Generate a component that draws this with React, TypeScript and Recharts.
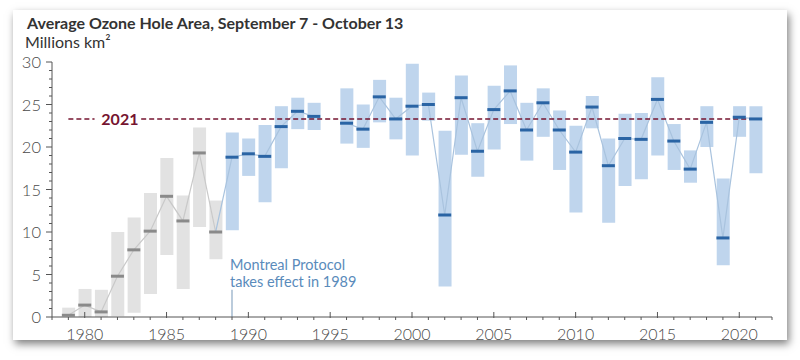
import React from 'react';
import {
  ComposedChart,
  Bar,
  Cell,
  Line,
  Scatter,
  XAxis,
  YAxis,
  ReferenceLine,
} from 'recharts';

const years = [
  1979, 1980, 1981, 1982, 1983, 1984, 1985, 1986, 1987, 1988,
  1989, 1990, 1991, 1992, 1993, 1994, 1995, 1996, 1997, 1998,
  1999, 2000, 2001, 2002, 2003, 2004, 2005, 2006, 2007, 2008,
  2009, 2010, 2011, 2012, 2013, 2014, 2015, 2016, 2017, 2018,
  2019, 2020, 2021,
];

const means = [
  0.2, 1.4, 0.6, 4.8, 7.9, 10.1, 14.2, 11.3, 19.3, 10.0,
  18.8, 19.2, 18.9, 22.4, 24.2, 23.6, null, 22.8, 22.1, 25.9,
  23.3, 24.8, 25.0, 12.0, 25.8, 19.5, 24.4, 26.6, 22.0, 25.2,
  22.0, 19.4, 24.7, 17.8, 21.0, 20.9, 25.6, 20.7, 17.4, 22.9,
  9.3, 23.5, 23.3,
];

const lows = [
  0, 0, 0, 0.1, 0.5, 2.7, 7.3, 3.3, 10.6, 6.8,
  10.2, 16.6, 13.5, 17.5, 22.1, 22.0, null, 20.4, 19.9, 22.9,
  20.9, 19.0, 23.1, 3.6, 19.1, 16.5, 19.7, 22.7, 18.4, 21.2,
  17.3, 12.3, 22.2, 11.1, 15.4, 16.2, 19.0, 17.3, 15.8, 20.0,
  6.1, 21.2, 16.9,
];

const highs = [
  1.1, 3.3, 3.2, 10.0, 11.7, 14.6, 18.7, 14.3, 22.3, 13.7,
  21.7, 21.0, 22.6, 24.8, 25.8, 25.2, null, 26.9, 25.0, 27.9,
  25.8, 29.8, 26.4, 21.9, 28.4, 22.8, 27.2, 29.6, 25.2, 26.9,
  24.3, 22.5, 26.0, 21.0, 23.9, 24.0, 28.2, 22.7, 19.6, 24.8,
  16.3, 24.8, 24.8,
];

const xTicks = [
  1978, 1979, 1980, 1981, 1982, 1983, 1984, 1985, 1986, 1987, 1988, 1989,
  1990, 1991, 1992, 1993, 1994, 1995, 1996, 1997, 1998, 1999, 2000, 2001,
  2002, 2003, 2004, 2005, 2006, 2007, 2008, 2009, 2010, 2011, 2012, 2013,
  2014, 2015, 2016, 2017, 2018, 2019, 2020, 2021, 2022,
];
const yTicks = [
  0, 1, 2, 3, 4, 5, 6, 7, 8, 9, 10, 11, 12, 13, 14, 15,
  16, 17, 18, 19, 20, 21, 22, 23, 24, 25, 26, 27, 28, 29, 30,
];

const protocolYear = 1989;
const level2021 = means[means.length - 1] as number;

const GRAY_BAR = '#e2e2e2';
const BLUE_BAR = '#bfd5ed';
const GRAY_MEAN = '#8a8a8a';
const BLUE_MEAN = '#2a64a4';
const DARK_RED = '#761430';
const FONT = 'Lato, "Open Sans", sans-serif';

const data = years.map((year, i) => ({
  year,
  range: lows[i] == null ? null : [lows[i], highs[i]],
  mean: means[i],
  meanGray: year <= 1988 ? means[i] : null,
  meanBlue: year >= 1988 ? means[i] : null,
}));

const XTick = (props: any) => {
  const { x, y, payload } = props;
  const major = payload.value % 5 === 0;
  return (
    <g>
      <line x1={x} x2={x} y1={major ? y - 5 : y} y2={y + (major ? 1 : 3)} stroke="#555" strokeWidth={1} />
      {major && (
        <text x={x} y={y + 16} textAnchor="middle" dominantBaseline="central" fill="#4a4a4a" fontSize={16} fontWeight={300} fontFamily={FONT}>
          {payload.value}
        </text>
      )}
    </g>
  );
};

const YTick = (props: any) => {
  const { x, y, payload } = props;
  const major = payload.value % 5 === 0;
  return (
    <g>
      <line x1={x - (major ? 6 : 3)} x2={x} y1={y} y2={y} stroke="#555" strokeWidth={1} />
      {major && (
        <text x={x - 11} y={y} textAnchor="end" dominantBaseline="central" fill="#4a4a4a" fontSize={16.5} fontWeight={300} fontFamily={FONT}>
          {payload.value}
        </text>
      )}
    </g>
  );
};

const MeanTick = (props: any) => {
  const { cx, cy, payload } = props;
  if (payload == null || payload.mean == null || !isFinite(cy)) return null;
  const color = payload.year < protocolYear ? GRAY_MEAN : BLUE_MEAN;
  return <rect x={cx - 6.5} y={cy - 1.5} width={13} height={3} fill={color} />;
};

export default function App() {
  return (
    <div style={{ position: 'absolute', left: 0, top: 0, width: 800, height: 360, background: '#fff', overflow: 'hidden', fontFamily: FONT }}>
      <div
        style={{
          position: 'absolute',
          left: 13,
          top: 10,
          width: 774,
          height: 330,
          background: '#fff',
          boxShadow: '2px 4px 8px rgba(0,0,0,0.5)',
        }}
      />
      <div style={{ position: 'absolute', left: 27, top: 15, fontSize: 16, lineHeight: '16px', fontWeight: 700, color: '#333', whiteSpace: 'nowrap' }}>
        Average Ozone Hole Area, September 7 - October 13
      </div>
      <div style={{ position: 'absolute', left: 25, top: 34, fontSize: 16, lineHeight: '16px', color: '#333', whiteSpace: 'nowrap' }}>
        Millions km²
      </div>
      <div style={{ position: 'absolute', left: 0, top: 0 }}>
        <ComposedChart width={800} height={360} data={data} margin={{ top: 62, right: 28, bottom: 13, left: 12 }}>
          <XAxis
            dataKey="year"
            type="number"
            domain={[1978, 2022]}
            ticks={xTicks}
            interval={0}
            stroke="#555"
            tickSize={0}
            tickMargin={0}
            tickLine={false}
            tick={<XTick />}
            height={30}
          />
          <YAxis
            type="number"
            domain={[0, 30]}
            ticks={yTicks}
            interval={0}
            stroke="#555"
            tickSize={0}
            tickMargin={0}
            tickLine={false}
            tick={<YTick />}
            width={40}
          />
          <Bar dataKey="range" barSize={13} isAnimationActive={false}>
            {data.map((d) => (
              <Cell key={d.year} fill={d.year < protocolYear ? GRAY_BAR : BLUE_BAR} />
            ))}
          </Bar>
          <Line dataKey="meanGray" stroke="#c9c9c9" strokeWidth={1.2} dot={false} activeDot={false} connectNulls={false} isAnimationActive={false} />
          <Line dataKey="meanBlue" stroke="#a9c3de" strokeWidth={1.2} dot={false} activeDot={false} connectNulls={false} isAnimationActive={false} />
          <ReferenceLine
            segment={[{ x: 1979, y: level2021 }, { x: 1980.6, y: level2021 }]}
            stroke={DARK_RED}
            strokeWidth={1.5}
            strokeDasharray="5 3"
          />
          <ReferenceLine
            segment={[{ x: 1983.45, y: level2021 }, { x: 2021.3, y: level2021 }]}
            stroke={DARK_RED}
            strokeWidth={1.5}
            strokeDasharray="5 3"
          />
          <ReferenceLine
            segment={[{ x: 1981.0, y: level2021 }, { x: 1983.3, y: level2021 }]}
            stroke="none"
            label={{ value: '2021', position: 'center', fill: DARK_RED, fontWeight: 700, fontSize: 16, fontFamily: FONT }}
          />
          <ReferenceLine
            segment={[{ x: protocolYear, y: 0 }, { x: protocolYear, y: 3.2 }]}
            stroke="#8ea9c4"
            strokeWidth={1.2}
          />
          <Scatter dataKey="mean" shape={<MeanTick />} isAnimationActive={false} />
        </ComposedChart>
      </div>
      <div style={{ position: 'absolute', left: 230, top: 256, fontSize: 14.5, lineHeight: '17px', color: '#5a8bbb', whiteSpace: 'nowrap' }}>
        Montreal Protocol
        <br />
        takes effect in 1989
      </div>
    </div>
  );
}
